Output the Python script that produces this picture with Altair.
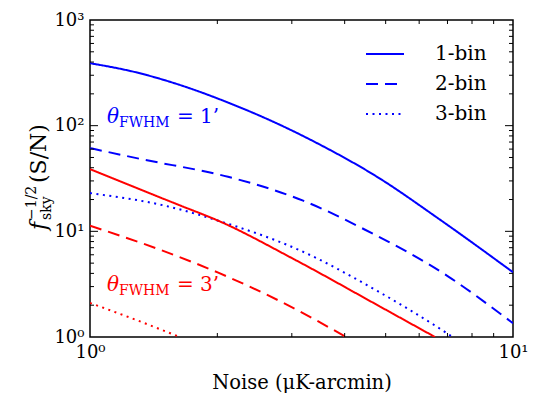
import altair as alt
import pandas as pd

# ---- data ----
beams = ["1'", "3'"]
bins = ["1-bin", "2-bin", "3-bin"]

noise_b1 = [1.0, 1.28, 1.63, 2.14, 2.81, 3.50, 4.76, 6.72, 10.0]
snr_b1 = [390, 321, 243, 163, 102, 66.0, 33.0, 12.9, 4.1]
noise_b2 = [1.0, 1.31, 2.12, 2.71, 3.19, 4.47, 7.02, 9.47, 10.0]
snr_b2 = [61.3, 48.6, 32.8, 24.7, 19.5, 10.35, 3.75, 1.59, 1.35]
noise_b3 = [1.0, 1.53, 2.01, 3.11, 4.80, 6.78, 7.2]
snr_b3 = [23.0, 17.2, 12.6, 6.7, 2.70, 1.17, 1.0]
noise_r1 = [1.0, 1.62, 2.01, 3.05, 4.85, 6.54]
snr_r1 = [38.8, 17.8, 12.6, 5.39, 1.94, 1.0]
noise_r2 = [1.0, 1.464, 2.01, 2.86, 4.03]
snr_r2 = [11.3, 6.70, 4.06, 2.11, 1.0]
noise_r3 = [1.0, 1.28, 1.63]
snr_r3 = [2.10, 1.46, 1.0]

x_ticks_minor = [2, 3, 4, 5, 6, 7, 8, 9]
y_ticks_major = [10, 100]
y_ticks_minor = [2, 3, 4, 5, 6, 7, 8, 9, 20, 30, 40, 50, 60, 70, 80, 90,
                 200, 300, 400, 500, 600, 700, 800, 900]
x_label_values = [1, 10]
y_label_values = [1, 10, 100, 1000]

ann_noise = [1.097, 1.097]
ann_snr = [105.7, 2.70]
ann_eq = ["= 1\u2019", "= 3\u2019"]

# ---- build table ----
series = [
    ("1'", "1-bin", noise_b1, snr_b1),
    ("1'", "2-bin", noise_b2, snr_b2),
    ("1'", "3-bin", noise_b3, snr_b3),
    ("3'", "1-bin", noise_r1, snr_r1),
    ("3'", "2-bin", noise_r2, snr_r2),
    ("3'", "3-bin", noise_r3, snr_r3),
]
rows = []
for beam, b, xs, ys in series:
    for xv, yv in zip(xs, ys):
        rows.append({"noise": xv, "snr": yv, "beam": beam, "bins": b, "series": beam + b})
df = pd.DataFrame(rows)

FONT = "DejaVu Serif"
BLUE = "#0000ff"
RED = "#ff0000"
W, H = 423, 317

xscale = alt.Scale(type="log", domain=[1, 10], nice=False)
yscale = alt.Scale(type="log", domain=[1, 1000], nice=False)
cscale = alt.Scale(domain=beams, range=[BLUE, RED])

label_expr = ("datum.value == 1 ? '10\u2070' : datum.value == 10 ? '10\u00b9' : "
              "datum.value == 100 ? '10\u00b2' : '10\u00b3'")

xaxis = alt.Axis(values=x_label_values, labelExpr=label_expr, ticks=False, domain=False,
                 grid=False, labelFont=FONT, labelFontSize=18, labelPadding=6,
                 labelColor="black", labelFlush=False, labelOverlap=False,
                 title="Noise (\u03bcK-arcmin)", titleFont=FONT, titleFontSize=19.5,
                 titleFontWeight="normal", titleColor="black", titlePadding=12)
yaxis = alt.Axis(values=y_label_values, labelExpr=label_expr, ticks=False, domain=False,
                 grid=False, labelFont=FONT, labelFontSize=18, labelPadding=6,
                 labelColor="black", labelFlush=False, labelOverlap=False, title=None)

lines = alt.Chart(df).mark_line(strokeWidth=2, clip=True, interpolate="monotone").encode(
    x=alt.X("noise:Q", scale=xscale, axis=xaxis),
    y=alt.Y("snr:Q", scale=yscale, axis=yaxis),
    color=alt.Color("beam:N", scale=cscale, legend=None),
    strokeDash=alt.StrokeDash(
        "bins:N",
        scale=alt.Scale(domain=bins, range=[[1, 0], [12, 7], [2, 4.5]]),
        legend=alt.Legend(title=None, orient="none", legendX=275, legendY=14,
                          padding=0, rowPadding=0, labelFont=FONT, labelFontSize=20,
                          labelOffset=30, labelColor="black", symbolType="stroke",
                          symbolSize=1444, symbolStrokeWidth=2,
                          symbolStrokeColor=BLUE)),
    detail="series:N",
)

# ---- inward ticks on all four sides ----
def xticks(vals, y0, y1):
    d = pd.DataFrame({"noise": vals})
    return alt.Chart(d).mark_rule(color="black", strokeWidth=1).encode(
        x=alt.X("noise:Q", scale=xscale, axis=xaxis),
        y=alt.value(y0), y2=alt.value(y1))

def yticks(vals, x0, x1):
    d = pd.DataFrame({"snr": vals})
    return alt.Chart(d).mark_rule(color="black", strokeWidth=1).encode(
        y=alt.Y("snr:Q", scale=yscale, axis=yaxis),
        x=alt.value(x0), x2=alt.value(x1))

MAJ, MIN = 8, 4
tick_layers = [
    xticks(x_ticks_minor, H, H - MIN),
    xticks(x_ticks_minor, 0, MIN),
    yticks(y_ticks_major, 0, MAJ),
    yticks(y_ticks_minor, 0, MIN),
    yticks(y_ticks_major, W, W - MAJ),
    yticks(y_ticks_minor, W, W - MIN),
]

# ---- theta_FWHM annotations ----
ann = pd.DataFrame({"noise": ann_noise, "snr": ann_snr, "beam": beams, "eq": ann_eq})

def ann_part(text_enc, dx, dy, size, style="normal"):
    return alt.Chart(ann).mark_text(align="left", baseline="alphabetic", dx=dx, dy=dy,
                                    font=FONT, fontSize=size, fontStyle=style).encode(
        x=alt.X("noise:Q", scale=xscale, axis=xaxis),
        y=alt.Y("snr:Q", scale=yscale, axis=yaxis),
        color=alt.Color("beam:N", scale=cscale, legend=None),
        text=text_enc)

ann_layers = [
    ann_part(alt.value("\u03b8"), 0, 0, 20, "italic"),
    ann_part(alt.value("FWHM"), 12, 3.5, 14),
    ann_part(alt.Text("eq:N"), 70, 0, 20),
]

# ---- y axis title  f_sky^{-1/2}(S/N) ----
one = pd.DataFrame({"k": [0]})

def ytitle_part(txt, dx, dy, size, style="normal"):
    return alt.Chart(one).mark_text(align="left", baseline="alphabetic", angle=270,
                                    dx=dx, dy=dy, font=FONT, fontSize=size,
                                    fontStyle=style, color="black").encode(
        x=alt.value(-44), y=alt.value(210), text=alt.value(txt))

ytitle_layers = [
    ytitle_part("f", 0, 0, 22, "italic"),
    ytitle_part("sky", 10, 5, 14),
    ytitle_part("\u22121/2", 10, -10, 14),
    ytitle_part("(S/N)", 47, 0, 22),
]

chart = alt.layer(lines, *tick_layers, *ann_layers, *ytitle_layers).properties(
    width=W, height=H,
    autosize=alt.AutoSizeParams(type="none"),
    padding={"left": 90, "top": 20, "right": 20, "bottom": 60},
).configure_view(stroke="black", strokeWidth=1.5)

chart.save("out.html", embed_options={"renderer": "svg", "actions": False})
